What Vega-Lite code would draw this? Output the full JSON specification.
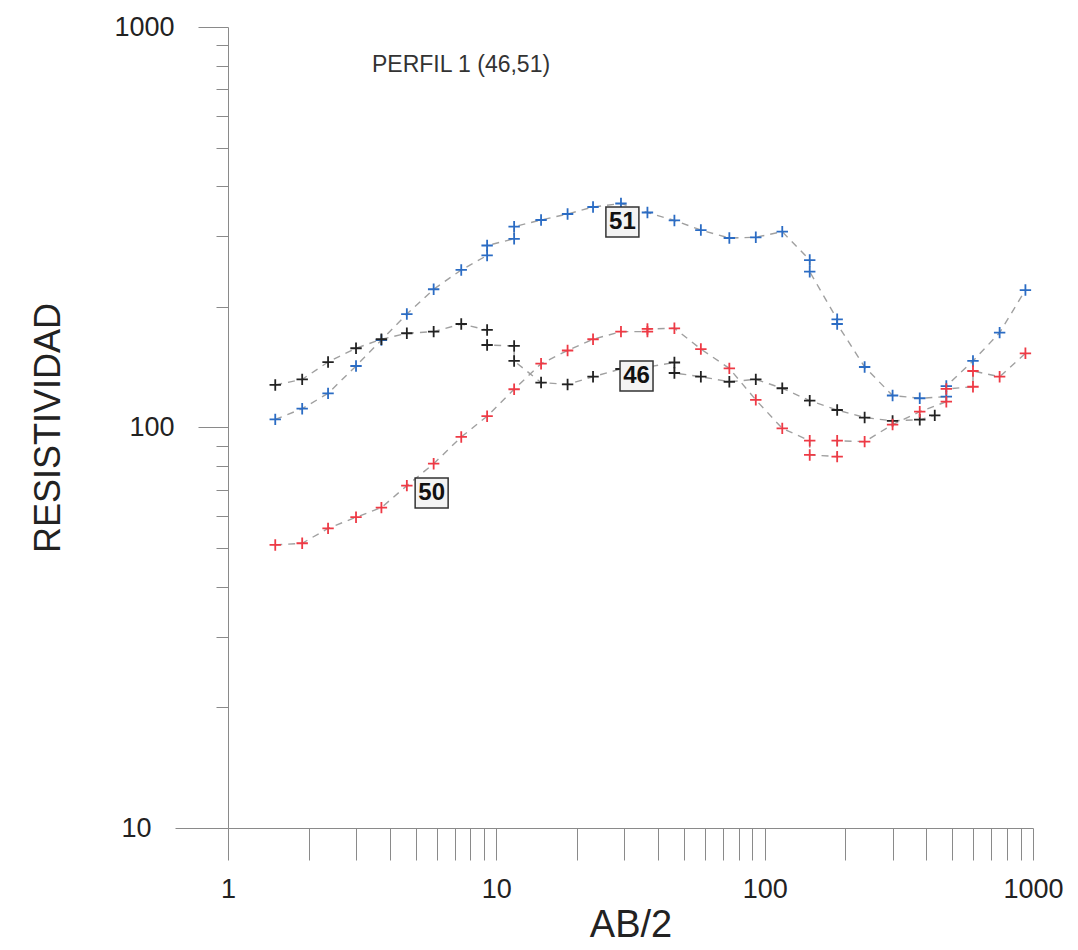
{
  "$schema": "https://vega.github.io/schema/vega-lite/v6.json",
  "width": 805,
  "height": 801,
  "autosize": {"type": "none"},
  "padding": {"left": 228, "top": 27, "right": 45, "bottom": 122},
  "background": "white",
  "config": {
    "view": {"stroke": null},
    "font": "Liberation Sans",
    "axis": {"grid": false, "domainColor": "#8a8a8a", "tickColor": "#8a8a8a", "labelColor": "#222", "titleColor": "#222", "labelFont": "Liberation Sans", "titleFont": "Liberation Sans", "titleFontWeight": "normal"}
  },
  "title": {
    "text": "PERFIL 1 (46,51)",
    "anchor": "start",
    "frame": "group",
    "orient": "top",
    "offset": 0,
    "dx": 144,
    "dy": 75,
    "baseline": "middle",
    "fontSize": 23,
    "fontWeight": "normal",
    "color": "#333",
    "font": "Liberation Sans"
  },
  "datasets": {
    "ves": [
      {"s": "51", "i": 0, "x": 1.5, "y": 104.8},
      {"s": "51", "i": 1, "x": 1.89, "y": 111.4},
      {"s": "51", "i": 2, "x": 2.36, "y": 121.7},
      {"s": "51", "i": 3, "x": 3.0, "y": 142.4},
      {"s": "51", "i": 4, "x": 3.73, "y": 165.4},
      {"s": "51", "i": 5, "x": 4.64, "y": 192.0},
      {"s": "51", "i": 6, "x": 5.84, "y": 221.4},
      {"s": "51", "i": 7, "x": 7.4, "y": 247.4},
      {"s": "51", "i": 8, "x": 9.24, "y": 268.9},
      {"s": "51", "i": 9, "x": 9.24, "y": 284.7},
      {"s": "51", "i": 10, "x": 11.65, "y": 295.9},
      {"s": "51", "i": 11, "x": 11.65, "y": 317.2},
      {"s": "51", "i": 12, "x": 14.68, "y": 329.7},
      {"s": "51", "i": 13, "x": 18.43, "y": 341.3},
      {"s": "51", "i": 14, "x": 22.93, "y": 355.3},
      {"s": "51", "i": 15, "x": 29.14, "y": 362.5},
      {"s": "51", "i": 16, "x": 36.57, "y": 344.2},
      {"s": "51", "i": 17, "x": 46.09, "y": 328.8},
      {"s": "51", "i": 18, "x": 57.84, "y": 311.2},
      {"s": "51", "i": 19, "x": 73.85, "y": 297.3},
      {"s": "51", "i": 20, "x": 92.67, "y": 298.5},
      {"s": "51", "i": 21, "x": 116.3, "y": 308.3},
      {"s": "51", "i": 22, "x": 147.2, "y": 261.9},
      {"s": "51", "i": 23, "x": 147.2, "y": 244.9},
      {"s": "51", "i": 24, "x": 186.3, "y": 186.3},
      {"s": "51", "i": 25, "x": 186.3, "y": 181.3},
      {"s": "51", "i": 26, "x": 235.8, "y": 141.6},
      {"s": "51", "i": 27, "x": 299.7, "y": 120.2},
      {"s": "51", "i": 28, "x": 378.4, "y": 118.3},
      {"s": "51", "i": 29, "x": 475.3, "y": 119.4},
      {"s": "51", "i": 30, "x": 475.3, "y": 126.9},
      {"s": "51", "i": 31, "x": 597.5, "y": 146.6},
      {"s": "51", "i": 32, "x": 751, "y": 172.5},
      {"s": "51", "i": 33, "x": 937, "y": 220.4},
      {"s": "46", "i": 0, "x": 1.5, "y": 127.7},
      {"s": "46", "i": 1, "x": 1.89, "y": 131.9},
      {"s": "46", "i": 2, "x": 2.36, "y": 145.7},
      {"s": "46", "i": 3, "x": 3.0, "y": 157.7},
      {"s": "46", "i": 4, "x": 3.73, "y": 166.1},
      {"s": "46", "i": 5, "x": 4.64, "y": 171.9},
      {"s": "46", "i": 6, "x": 5.84, "y": 173.5},
      {"s": "46", "i": 7, "x": 7.4, "y": 181.3},
      {"s": "46", "i": 8, "x": 9.24, "y": 175.2},
      {"s": "46", "i": 9, "x": 9.24, "y": 160.7},
      {"s": "46", "i": 10, "x": 11.65, "y": 159.8},
      {"s": "46", "i": 11, "x": 11.65, "y": 146.6},
      {"s": "46", "i": 12, "x": 14.68, "y": 129.5},
      {"s": "46", "i": 13, "x": 18.43, "y": 128.1},
      {"s": "46", "i": 14, "x": 22.93, "y": 133.9},
      {"s": "46", "i": 15, "x": 29.14, "y": 140.0},
      {"s": "46", "i": 16, "x": 36.57, "y": 141.6},
      {"s": "46", "i": 17, "x": 46.09, "y": 145.3},
      {"s": "46", "i": 18, "x": 46.09, "y": 136.8},
      {"s": "46", "i": 19, "x": 57.84, "y": 133.9},
      {"s": "46", "i": 20, "x": 73.85, "y": 130.1},
      {"s": "46", "i": 21, "x": 92.67, "y": 131.9},
      {"s": "46", "i": 22, "x": 116.3, "y": 125.3},
      {"s": "46", "i": 23, "x": 147.2, "y": 116.7},
      {"s": "46", "i": 24, "x": 186.3, "y": 110.6},
      {"s": "46", "i": 25, "x": 235.8, "y": 105.9},
      {"s": "46", "i": 26, "x": 299.7, "y": 103.9},
      {"s": "46", "i": 27, "x": 378.4, "y": 104.6},
      {"s": "46", "i": 28, "x": 430.4, "y": 107.2},
      {"s": "50", "i": 0, "x": 1.5, "y": 50.9},
      {"s": "50", "i": 1, "x": 1.89, "y": 51.4},
      {"s": "50", "i": 2, "x": 2.36, "y": 56.0},
      {"s": "50", "i": 3, "x": 3.0, "y": 59.7},
      {"s": "50", "i": 4, "x": 3.73, "y": 63.1},
      {"s": "50", "i": 5, "x": 4.64, "y": 71.6},
      {"s": "50", "i": 6, "x": 5.84, "y": 81.2},
      {"s": "50", "i": 7, "x": 7.4, "y": 94.7},
      {"s": "50", "i": 8, "x": 9.24, "y": 106.7},
      {"s": "50", "i": 9, "x": 11.65, "y": 124.6},
      {"s": "50", "i": 10, "x": 14.68, "y": 144.3},
      {"s": "50", "i": 11, "x": 18.43, "y": 155.7},
      {"s": "50", "i": 12, "x": 22.93, "y": 166.1},
      {"s": "50", "i": 13, "x": 29.14, "y": 173.5},
      {"s": "50", "i": 14, "x": 36.57, "y": 173.5},
      {"s": "50", "i": 15, "x": 36.57, "y": 176.2},
      {"s": "50", "i": 16, "x": 46.09, "y": 176.9},
      {"s": "50", "i": 17, "x": 57.84, "y": 157.0},
      {"s": "50", "i": 18, "x": 73.85, "y": 140.5},
      {"s": "50", "i": 19, "x": 92.67, "y": 117.2},
      {"s": "50", "i": 20, "x": 116.3, "y": 99.5},
      {"s": "50", "i": 21, "x": 147.2, "y": 92.7},
      {"s": "50", "i": 22, "x": 147.2, "y": 85.4},
      {"s": "50", "i": 23, "x": 186.3, "y": 84.6},
      {"s": "50", "i": 24, "x": 186.3, "y": 92.7},
      {"s": "50", "i": 25, "x": 235.8, "y": 92.2},
      {"s": "50", "i": 26, "x": 299.7, "y": 101.7},
      {"s": "50", "i": 27, "x": 378.4, "y": 109.5},
      {"s": "50", "i": 28, "x": 475.3, "y": 116.0},
      {"s": "50", "i": 29, "x": 475.3, "y": 124.8},
      {"s": "50", "i": 30, "x": 597.5, "y": 126.4},
      {"s": "50", "i": 31, "x": 597.5, "y": 138.4},
      {"s": "50", "i": 32, "x": 751, "y": 133.9},
      {"s": "50", "i": 33, "x": 937, "y": 153.2}
    ],
    "labels": [
      {"t": "51", "x": 29.5, "y": 326},
      {"t": "46", "x": 33.3, "y": 134.5},
      {"t": "50", "x": 5.74, "y": 68.6}
    ]
  },
  "layer": [
    {
      "data": {"name": "ves"},
      "mark": {"type": "line", "color": "#a0a0a0", "strokeWidth": 1.4, "strokeDash": [7, 6]},
      "encoding": {
        "x": {
          "field": "x", "type": "quantitative",
          "scale": {"type": "log", "domain": [1, 1000], "nice": false},
          "axis": {
            "title": "AB/2",
            "titleFontSize": 38,
            "titlePadding": 4,
            "values": [1, 2, 3, 4, 5, 6, 7, 8, 9, 10, 20, 30, 40, 50, 60, 70, 80, 90, 100, 200, 300, 400, 500, 600, 700, 800, 900, 1000],
            "labelExpr": "indexof([1,10,100,1000], datum.value) >= 0 ? format(datum.value, 'd') : ''",
            "labelFontSize": 27,
            "labelPadding": 16,
            "labelFlush": false,
            "labelOverlap": false,
            "tickSize": 32,
            "encode": {"ticks": {"update": {"y2": {"signal": "indexof([1,10,100,1000], datum.value) >= 0 ? 32 : 15"}}}}
          }
        },
        "y": {
          "field": "y", "type": "quantitative",
          "scale": {"type": "log", "domain": [10, 1000], "nice": false},
          "axis": {
            "title": "RESISTIVIDAD",
            "titleFontSize": 36,
            "titlePadding": 46,
            "values": [10, 20, 30, 40, 50, 60, 70, 80, 90, 100, 200, 300, 400, 500, 600, 700, 800, 900, 1000],
            "labelExpr": "indexof([10,100,1000], datum.value) >= 0 ? format(datum.value, 'd') : ''",
            "labelFontSize": 27,
            "labelPadding": 24,
            "labelFlush": false,
            "labelOverlap": false,
            "tickSize": {"condition": [{"test": "datum.value == 10", "value": 53}, {"test": "datum.value == 100 || datum.value == 1000", "value": 30}], "value": 12}
          }
        },
        "detail": {"field": "s"},
        "order": {"field": "i", "type": "quantitative"}
      }
    },
    {
      "data": {"name": "ves"},
      "mark": {"type": "point", "shape": "M-1,0L1,0M0,-1L0,1", "filled": false, "size": 130, "strokeWidth": 1.8, "opacity": 1},
      "encoding": {
        "x": {"field": "x", "type": "quantitative"},
        "y": {"field": "y", "type": "quantitative"},
        "color": {"field": "s", "type": "nominal", "scale": {"domain": ["46", "50", "51"], "range": ["#222222", "#ee3a45", "#2b6cc4"]}, "legend": null}
      }
    },
    {
      "data": {"name": "labels"},
      "mark": {"type": "point", "shape": "M-1.1,-1L1.1,-1L1.1,1L-1.1,1Z", "size": 900, "filled": true, "fill": "#f3f3f3", "stroke": "#333", "strokeWidth": 1.5, "opacity": 1},
      "encoding": {
        "x": {"field": "x", "type": "quantitative"},
        "y": {"field": "y", "type": "quantitative"}
      }
    },
    {
      "data": {"name": "labels"},
      "mark": {"type": "text", "fontSize": 24, "fontWeight": "bold", "color": "#111", "align": "center", "baseline": "middle", "font": "Liberation Sans"},
      "encoding": {
        "x": {"field": "x", "type": "quantitative"},
        "y": {"field": "y", "type": "quantitative"},
        "text": {"field": "t"}
      }
    }
  ]
}
